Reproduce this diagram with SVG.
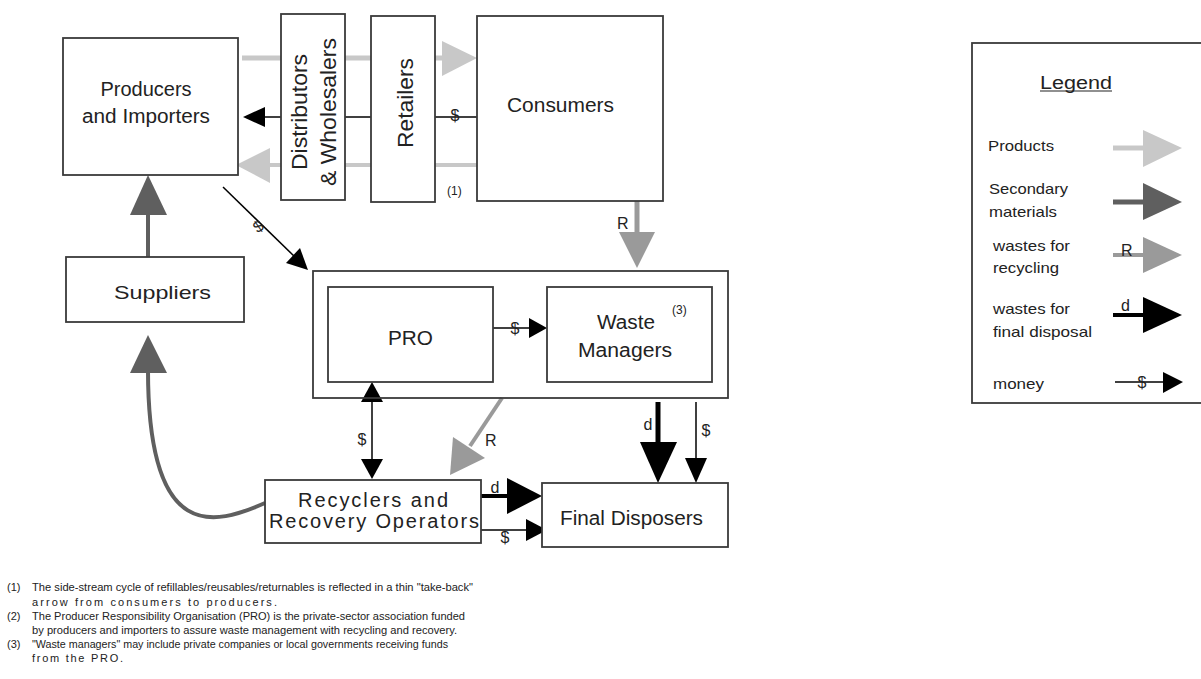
<svg xmlns="http://www.w3.org/2000/svg" width="1201" height="679" viewBox="0 0 1201 679">
<style>
.box{fill:#fff;stroke:#3a3a3a;stroke-width:1.8}
.frame{fill:none;stroke:#3a3a3a;stroke-width:1.8}
.t{font-family:"Liberation Sans",Arial,sans-serif;fill:#222}
.lbl{font-family:"Liberation Sans",Arial,sans-serif;fill:#222;font-size:16px}
.prod{stroke:#c8c8c8;fill:none}
.prodh{fill:#c8c8c8}
.sec{stroke:#5f5f5f;fill:none}
.sech{fill:#5f5f5f}
.rec{stroke:#9a9a9a;fill:none}
.rech{fill:#9a9a9a}
.dis{stroke:#000;fill:none}
.dish{fill:#000}
.mon{stroke:#000;stroke-width:1.5;fill:none}
.fn{font-family:"Liberation Sans",Arial,sans-serif;fill:#222;font-size:11px}
</style>
<rect width="1201" height="679" fill="#fff"/>

<g id="connectors">
  <!-- products to consumers -->
  <line class="prod" x1="242" y1="58" x2="444" y2="58" stroke-width="5"/>
  <polygon class="prodh" points="442,41 477,58 442,76"/>
  <!-- money consumers to producers -->
  <line class="mon" x1="477" y1="117" x2="262" y2="117"/>
  <polygon class="dish" points="243,117 265,107 265,127"/>
  <!-- take-back -->
  <line class="prod" x1="477" y1="165" x2="268" y2="165" stroke-width="4"/>
  <polygon class="prodh" points="236,165 270,148 270,183"/>
  <!-- producers money to PRO -->
  <line class="mon" x1="223" y1="187" x2="296" y2="258"/>
  <polygon class="dish" points="308,270 286,263 300,248"/>
  <!-- suppliers to producers -->
  <line class="sec" x1="148" y1="257" x2="148" y2="212" stroke-width="4"/>
  <polygon class="sech" points="148,175 130,215 167,215"/>
  <!-- recyclers to suppliers (curve) -->
  <path class="sec" d="M265,503 C215,525 148,545 148,370" stroke-width="4"/>
  <polygon class="sech" points="148,335 130,373 167,373"/>
  <!-- consumers R to waste managers -->
  <line class="rec" x1="637" y1="201" x2="637" y2="234" stroke-width="5"/>
  <polygon class="rech" points="637,268 619,232 655,232"/>
  <!-- PRO to WM money -->
  <line class="mon" x1="493" y1="328" x2="532" y2="328"/>
  <polygon class="dish" points="547,328 529,318 529,338"/>
  <!-- PRO <-> recyclers -->
  <line class="mon" x1="372" y1="400" x2="372" y2="461"/>
  <polygon class="dish" points="372,382 361,402 383,402"/>
  <polygon class="dish" points="372,479 361,459 383,459"/>
  <!-- R outer box to recyclers -->
  <line class="rec" x1="502" y1="398" x2="470" y2="446" stroke-width="4"/>
  <polygon class="rech" points="450,475 453,437 485,458"/>
  <!-- WM d to final -->
  <line class="dis" x1="658" y1="402" x2="658" y2="444" stroke-width="5"/>
  <polygon class="dish" points="658,483 640,442 677,442"/>
  <!-- WM $ to final -->
  <line class="mon" x1="696" y1="402" x2="696" y2="460"/>
  <polygon class="dish" points="696,483 685,458 707,458"/>
  <!-- recyclers d to final -->
  <line class="dis" x1="481" y1="496" x2="509" y2="496" stroke-width="4"/>
  <polygon class="dish" points="542,496 507,478 507,514"/>
  <!-- recyclers $ to final -->
  <line class="mon" x1="481" y1="530" x2="528" y2="530"/>
  <polygon class="dish" points="547,530 526,519 526,541"/>
</g>

<g id="producers">
  <rect class="box" x="63" y="38" width="175" height="137"/>
  <text class="t" font-size="20" text-anchor="middle" x="146" y="96">Producers</text>
  <text class="t" font-size="20" text-anchor="middle" x="146" y="123" textLength="128" lengthAdjust="spacingAndGlyphs">and Importers</text>
</g>
<g id="distributors">
  <rect class="box" x="281" y="14" width="64" height="186"/>
  <text class="t" font-size="22" text-anchor="middle" transform="translate(307,112) rotate(-90)" textLength="116" lengthAdjust="spacingAndGlyphs">Distributors</text>
  <text class="t" font-size="22" text-anchor="middle" transform="translate(336,112) rotate(-90)" textLength="148" lengthAdjust="spacingAndGlyphs">&amp; Wholesalers</text>
</g>
<g id="retailers">
  <rect class="box" x="371" y="16" width="64" height="186"/>
  <text class="t" font-size="22" text-anchor="middle" transform="translate(413,103) rotate(-90)" textLength="90" lengthAdjust="spacingAndGlyphs">Retailers</text>
</g>
<g id="consumers">
  <rect class="box" x="477" y="16" width="186" height="185"/>
  <text class="t" font-size="20" x="507" y="112" textLength="107" lengthAdjust="spacingAndGlyphs">Consumers</text>
</g>
<g id="suppliers">
  <rect class="box" x="66" y="257" width="178" height="65"/>
  <text class="t" font-size="19" x="114" y="299" textLength="97" lengthAdjust="spacingAndGlyphs">Suppliers</text>
</g>
<g id="pro-group">
  <rect class="frame" x="313" y="271" width="415" height="127"/>
</g>
<g id="pro">
  <rect class="box" x="328" y="287" width="165" height="95"/>
  <text class="t" font-size="20" x="388" y="345" textLength="45" lengthAdjust="spacingAndGlyphs">PRO</text>
</g>
<g id="waste-managers">
  <rect class="box" x="547" y="287" width="165" height="95"/>
  <text class="t" font-size="20" x="597" y="329" textLength="58" lengthAdjust="spacingAndGlyphs">Waste</text>
  <text class="t" font-size="20" x="578" y="357" textLength="94" lengthAdjust="spacingAndGlyphs">Managers</text>
  <text class="t" font-size="12" x="672" y="314">(3)</text>
</g>
<g id="recyclers">
  <rect class="box" x="265" y="480" width="216" height="63"/>
  <text class="t" font-size="20" x="298" y="507" textLength="150" lengthAdjust="spacing">Recyclers and</text>
  <text class="t" font-size="20" x="269" y="528" textLength="210" lengthAdjust="spacing">Recovery Operators</text>
</g>
<g id="final-disposers">
  <rect class="box" x="542" y="483" width="186" height="64"/>
  <text class="t" font-size="20" x="560" y="525" textLength="143" lengthAdjust="spacingAndGlyphs">Final Disposers</text>
</g>

<g id="connector-labels">
  <text class="lbl" text-anchor="middle" x="455" y="121" font-size="15">$</text>
  <text class="t" font-size="12" x="447" y="195">(1)</text>
  <text class="lbl" text-anchor="middle" transform="translate(258,226) rotate(-35)" dy="6">$</text>
  <text class="lbl" x="617" y="229">R</text>
  <text class="lbl" text-anchor="middle" x="515" y="334">$</text>
  <text class="lbl" text-anchor="middle" x="362" y="445">$</text>
  <text class="lbl" x="485" y="446">R</text>
  <text class="lbl" text-anchor="middle" x="648" y="430">d</text>
  <text class="lbl" text-anchor="middle" x="706" y="436">$</text>
  <text class="lbl" text-anchor="middle" x="495" y="493">d</text>
  <text class="lbl" text-anchor="middle" x="505" y="543">$</text>
</g>

<g id="legend">
  <rect class="box" x="972" y="43" width="240" height="360"/>
  <text class="t" font-size="18" x="1040" y="89" textLength="72" lengthAdjust="spacingAndGlyphs">Legend</text>
  <line x1="1040" y1="91" x2="1112" y2="91" stroke="#222" stroke-width="1.2"/>
  <text class="t" font-size="15" x="988" y="151" textLength="66" lengthAdjust="spacingAndGlyphs">Products</text>
  <line class="prod" x1="1113" y1="148" x2="1145" y2="148" stroke-width="5"/>
  <polygon class="prodh" points="1143,130 1182,148 1143,167"/>
  <text class="t" font-size="15" x="989" y="194" textLength="79" lengthAdjust="spacingAndGlyphs">Secondary</text>
  <text class="t" font-size="15" x="989" y="217" textLength="68" lengthAdjust="spacingAndGlyphs">materials</text>
  <line class="sec" x1="1113" y1="202" x2="1145" y2="202" stroke-width="5"/>
  <polygon class="sech" points="1143,183 1182,202 1143,220"/>
  <text class="t" font-size="15" x="993" y="251" textLength="77" lengthAdjust="spacingAndGlyphs">wastes for</text>
  <text class="t" font-size="15" x="993" y="273" textLength="66" lengthAdjust="spacingAndGlyphs">recycling</text>
  <line class="rec" x1="1113" y1="255" x2="1145" y2="255" stroke-width="4"/>
  <polygon class="rech" points="1143,237 1182,255 1143,273"/>
  <text class="lbl" x="1121" y="256">R</text>
  <text class="t" font-size="15" x="993" y="314" textLength="77" lengthAdjust="spacingAndGlyphs">wastes for</text>
  <text class="t" font-size="15" x="993" y="337" textLength="99" lengthAdjust="spacingAndGlyphs">final disposal</text>
  <line class="dis" x1="1113" y1="315" x2="1145" y2="315" stroke-width="4"/>
  <polygon class="dish" points="1143,297 1182,315 1143,333"/>
  <text class="lbl" x="1121" y="311">d</text>
  <text class="t" font-size="15" x="993" y="389" textLength="51" lengthAdjust="spacingAndGlyphs">money</text>
  <line class="mon" x1="1115" y1="382" x2="1165" y2="382"/>
  <polygon class="dish" points="1183,382 1163,372 1163,393"/>
  <text class="lbl" text-anchor="middle" x="1142" y="388">$</text>
</g>

<g id="footnotes">
  <text class="fn" x="7" y="591" font-size="10">(1)</text>
  <text class="fn" x="32" y="591" textLength="441" lengthAdjust="spacingAndGlyphs">The side-stream cycle of refillables/reusables/returnables is reflected in a thin "take-back"</text>
  <text class="fn" x="32" y="606" textLength="245" lengthAdjust="spacing">arrow from consumers to producers.</text>
  <text class="fn" x="7" y="620" font-size="10">(2)</text>
  <text class="fn" x="32" y="620" textLength="433" lengthAdjust="spacingAndGlyphs">The Producer Responsibility Organisation (PRO) is the private-sector association funded</text>
  <text class="fn" x="32" y="634" textLength="425" lengthAdjust="spacingAndGlyphs">by producers and importers to assure waste management with recycling and recovery.</text>
  <text class="fn" x="7" y="648" font-size="10">(3)</text>
  <text class="fn" x="32" y="648" textLength="416" lengthAdjust="spacingAndGlyphs">"Waste managers" may include private companies or local governments receiving funds</text>
  <text class="fn" x="32" y="662" textLength="91" lengthAdjust="spacing">from the PRO.</text>
</g>
</svg>
